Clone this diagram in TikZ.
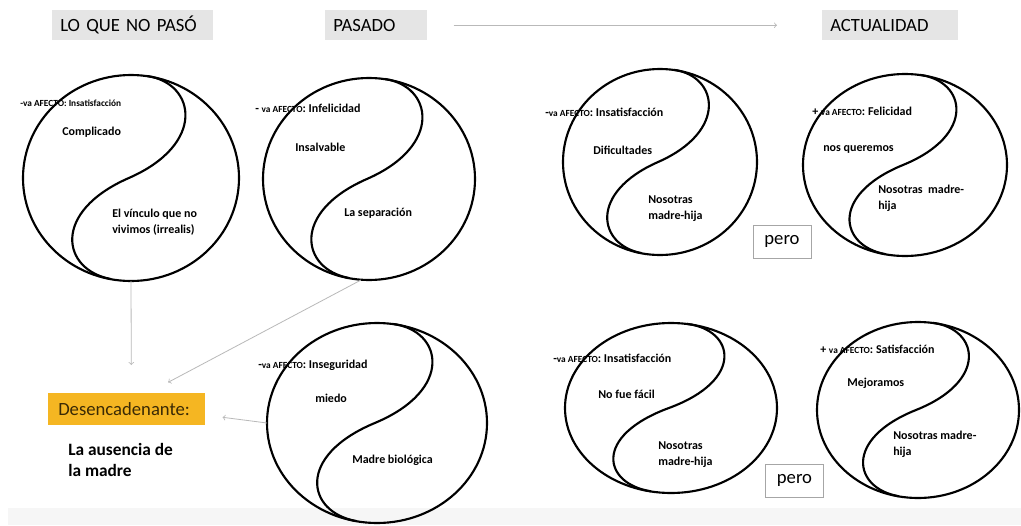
\documentclass[tikz,border=0pt]{standalone}
\usepackage{fontspec}
\setmainfont{Carlito}
\usetikzlibrary{shapes.geometric}
\definecolor{amber}{HTML}{F5B622}
\definecolor{deskink}{HTML}{3A2A05}
\tikzset{
  yyring/.style={ellipse, draw=black, line width=1.6pt, inner sep=0pt, outer sep=0pt},
  yyline/.style={draw=black, line width=1.6pt},
  hdr/.style={fill=gray!20, inner xsep=6pt, inner ysep=0pt, minimum height=22.5pt, align=left, anchor=north west, font=\fontsize{14}{16}\selectfont},
  afecto/.style={anchor=west, inner sep=0pt, font=\bfseries\fontsize{9}{11}\selectfont},
  lbl/.style={anchor=west, inner sep=0pt, align=left, font=\bfseries\fontsize{9}{12}\selectfont},
  perobox/.style={draw=gray!70, line width=0.6pt, minimum width=43.5pt, minimum height=24.75pt, font=\fontsize{14}{16}\selectfont},
  link/.style={->, draw=gray!55, line width=0.6pt}
}
% ring with the S line: name, cx, cy, rx, ry
\newcommand{\yinyang}[5]{%
  \node[yyring, minimum width=#4*1.5pt, minimum height=#5*1.5pt] (#1) at (#2,#3) {};
  \draw[yyline] ({#2+0.15*#4},{#3-0.99*#5}) .. controls ({#2+0.6*#4},{#3-0.92*#5}) and ({#2+0.7*#4},{#3-0.33*#5}) .. ({#2-0.02*#4},{#3})
    .. controls ({#2-0.74*#4},{#3+0.33*#5}) and ({#2-0.64*#4},{#3+0.89*#5}) .. ({#2-0.19*#4},{#3+0.98*#5});}
\newcommand{\vaAfecto}{{\fontsize{7}{9}\selectfont va AFECTO}}
\begin{document}
\begin{tikzpicture}[x=0.75pt, y=-0.75pt]
    \useasboundingbox (0,0) rectangle (1021,525);
    \fill[white] (0,0) rectangle (1021,525);
    \fill[gray!7] (8,508) rectangle (1021,525);

    % headers
    \node[hdr, text width=108.75pt] (nopaso) at (52,10) {LO QUE NO PASÓ};
    \node[hdr, text width=64.5pt] (pasado) at (325,10) {PASADO};
    \node[hdr, text width=90pt] (actual) at (822,10) {ACTUALIDAD};
    \draw[link] ([xshift=19.5pt]pasado.east) -- ([xshift=-33.75pt]actual.west);

    % rings
    \yinyang{c1}{131}{178}{108}{103}
    \yinyang{c2}{369}{179}{106}{101}
    \yinyang{c3}{660}{162}{97}{93}
    \yinyang{c4}{905}{165}{102}{91}
    \yinyang{c5}{377}{423}{110}{100}
    \yinyang{c6}{671}{408}{106}{85}
    \yinyang{c7}{918}{410}{101}{88}

    % texts in the rings
    \node[afecto, font=\bfseries\fontsize{7}{9}\selectfont] (a1) at (20,103) {-va AFECTO: Insatisfacción};
    \node[lbl] (t1a) at (62,132) {Complicado};
    \node[lbl] (t1b) at (112,222.5) {El vínculo que no\\vivimos (irrealis)};

    \node[afecto] (a2) at (255,108) {- \vaAfecto: Infelicidad};
    \node[lbl] (t2a) at (295,147) {Insalvable};
    \node[lbl] (t2b) at (344,213) {La separación};

    \node[afecto] (a3) at (545,112) {-\vaAfecto: Insatisfacción};
    \node[lbl] (t3a) at (593,150) {Dificultades};
    \node[lbl] (t3b) at (648,208.5) {Nosotras\\madre-hija};

    \node[afecto] (a4) at (812,111) {+ \vaAfecto: Felicidad};
    \node[lbl] (t4a) at (823,149) {nos queremos};
    \node[lbl] (t4b) at (878,198.5) {Nosotras~~madre-\\hija};

    \node[afecto] (a5) at (258,365) {-\vaAfecto: Inseguridad};
    \node[lbl] (t5a) at (315,398) {miedo};
    \node[lbl] (t5b) at (352,460) {Madre biológica};

    \node[afecto] (a6) at (553,358) {-\vaAfecto: Insatisfacción};
    \node[lbl] (t6a) at (598,394) {No fue fácil};
    \node[lbl] (t6b) at (658,454.5) {Nosotras\\madre-hija};

    \node[afecto] (a7) at (820,349) {+ \vaAfecto: Satisfacción};
    \node[lbl] (t7a) at (847,383) {Mejoramos};
    \node[lbl] (t7b) at (893,444.5) {Nosotras madre-\\hija};

    \node[perobox] (pero1) at (782,241.5) {pero};
    \node[perobox] (pero2) at (794.5,480.5) {pero};

    % trigger
    \node[fill=amber, text=deskink, anchor=north west, inner xsep=7.5pt, inner ysep=0pt, minimum height=24pt, text width=102.75pt, align=left, font=\fontsize{14}{16}\selectfont] (desc) at (48,393) {Desencadenante:};
    \node[anchor=north west, inner sep=0pt, align=left, font=\bfseries\fontsize{13}{15.75}\selectfont] (ausencia) at (68,443) {La ausencia de\\la madre};

    \draw[link] (c1.south) -- ([xshift=3.4pt,yshift=21pt]desc.north);
    \draw[link] ([xshift=-6pt]c2.south) -- ([xshift=31pt,yshift=8pt]desc.north);
    \draw[link] (c5.west) -- ([xshift=12.75pt,yshift=-6pt]desc.east);

\end{tikzpicture}
\end{document}
